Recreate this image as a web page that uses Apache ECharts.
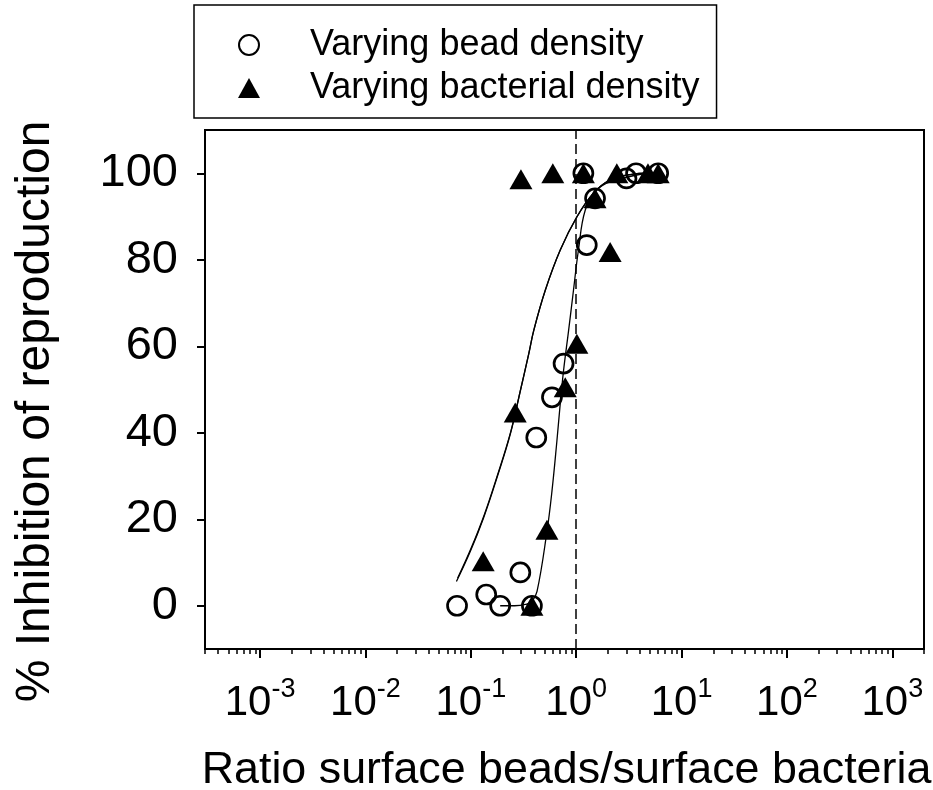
<!DOCTYPE html>
<html><head><meta charset="utf-8">
<script src="https://cdn.jsdelivr.net/npm/echarts@6/dist/echarts.min.js"></script>
<style>html,body{margin:0;padding:0;background:#fff}#c{width:933px;height:790px}</style>
</head><body><div id="c"></div>
<script>
// ---- data (ratio on log scale, % inhibition) ----
const beadRatio = [0.074, 0.14, 0.19, 0.295, 0.38, 0.418, 0.589, 0.759, 1.17, 1.26, 1.51, 3.0, 3.7, 6.0];
const beadInhib = [0, 2.6, 0, 7.7, 0, 38.9, 48.2, 56.0, 100, 83.4, 94.2, 98.8, 100, 100];
const bactRatio = [0.131, 0.264, 0.38, 0.528, 0.787, 1.015, 0.299, 0.60, 1.17, 1.51, 2.10, 2.43, 4.8, 6.0];
const bactInhib = [10.3, 44.7, 0, 17.6, 50.5, 60.6, 98.6, 100, 100, 94.2, 81.8, 100, 100, 100];
// fitted curves
const fitA_Ratio = [0.073, 0.099, 0.132, 0.177, 0.237, 0.295, 0.354, 0.395, 0.508, 0.705, 1.015, 1.46, 2.10, 3.47, 4.6];
const fitA_Inhib = [5.6, 12.6, 20.3, 29.6, 39.7, 49.7, 58.2, 63.6, 72.9, 82.2, 89.9, 95.4, 98.4, 99.8, 100];
const fitB_Ratio = [0.075, 0.101, 0.134, 0.179, 0.239, 0.297, 0.356, 0.397, 0.510, 0.707, 1.02, 1.47, 2.11, 3.48, 4.6];
const fitB_Inhib = [6.4, 13.4, 21.0, 30.2, 40.2, 50.0, 58.4, 63.8, 73.0, 82.3, 90.0, 95.5, 98.5, 99.8, 100];
const fitC_Ratio = [0.19, 0.26, 0.33, 0.38, 0.425, 0.528, 0.589, 0.656, 0.705, 0.759, 0.847, 0.942, 1.05, 1.22, 1.57, 2.10, 4.6];
const fitC_Inhib = [0, 0, 0.3, 1.0, 3.3, 17.2, 26.5, 38.1, 46.6, 54.4, 63.6, 72.9, 82.2, 91.5, 96.1, 98.0, 100];
const xExponents = [-3, -2, -1, 0, 1, 2, 3];
const yTickValues = [0, 20, 40, 60, 80, 100];
const xMin = 3e-4, xMax = 2000, yMin = -10, yMax = 110;
const refRatio = 1;

const L = Math.log10;
const pairs = (xs, ys) => xs.map((x, i) => [L(x), ys[i]]);
const minorTicks = [];
for (let n = -4; n <= 3; n++) {
  for (let k = 2; k <= 9; k++) {
    const v = k * Math.pow(10, n);
    if (v >= xMin * 0.999 && v <= xMax * 1.001) minorTicks.push(L(v));
  }
}
const FONT = 'Liberation Sans, Arial, sans-serif';
const chart = echarts.init(document.getElementById('c'));
const curveStyle = { color: '#000', width: 1.3 };
chart.setOption({
  animation: false,
  backgroundColor: '#fff',
  textStyle: { fontFamily: FONT, color: '#000' },
  grid: { left: 205, right: 9, top: 130, bottom: 141, outerBoundsMode: 'none', containLabel: false,
    show: true, borderColor: '#000', borderWidth: 2, backgroundColor: 'transparent' },
  legend: {
    orient: 'vertical', left: 194, top: 5,
    padding: [22, 17, 12, 44],
    itemGap: 7, itemWidth: 22, itemHeight: 20,
    borderColor: '#000', borderWidth: 1.5,
    textStyle: { fontSize: 36, fontFamily: FONT, color: '#000', lineHeight: 36, padding: [0, 0, 0, 45] },
    data: [
      { name: 'Varying bead density', icon: 'circle', itemStyle: { color: '#fff', borderColor: '#000', borderWidth: 2 } },
      { name: 'Varying bacterial density', icon: 'triangle', itemStyle: { color: '#000' } }
    ]
  },
  xAxis: [{
    type: 'value', min: L(xMin), max: L(xMax), position: 'bottom',
    name: 'Ratio surface beads/surface bacteria', nameLocation: 'middle', nameGap: 99,
    nameTextStyle: { fontSize: 44.8, fontFamily: FONT, color: '#000', padding: [0, 0, 0, 4] },
    axisLine: { show: true, onZero: false, lineStyle: { color: '#000', width: 2 } },
    axisTick: { show: true, length: 9, customValues: xExponents, lineStyle: { color: '#000', width: 2 } },
    axisLabel: {
      show: true, customValues: xExponents, margin: 27,
      formatter: v => '{b|10}{s|' + Math.round(v) + '}',
      rich: {
        b: { fontSize: 42, fontFamily: FONT, color: '#000', verticalAlign: 'bottom', lineHeight: 48 },
        s: { fontSize: 27, fontFamily: FONT, color: '#000', verticalAlign: 'top', lineHeight: 48 }
      }
    },
    splitLine: { show: false }
  }, {
    type: 'value', min: L(xMin), max: L(xMax), position: 'bottom', gridIndex: 0,
    axisLine: { show: false, onZero: false },
    axisTick: { show: true, length: 5, customValues: minorTicks, lineStyle: { color: '#000', width: 1.5 } },
    axisLabel: { show: false },
    splitLine: { show: false }
  }],
  yAxis: {
    type: 'value', min: yMin, max: yMax,
    name: '% Inhibition of reproduction', nameLocation: 'middle', nameGap: 145, nameRotate: 90,
    nameTextStyle: { fontSize: 48, fontFamily: FONT, color: '#000', padding: [0, 44, 0, 0] },
    axisLine: { show: true, onZero: false, lineStyle: { color: '#000', width: 2 } },
    axisTick: { show: true, length: 8, customValues: yTickValues, lineStyle: { color: '#000', width: 2 } },
    axisLabel: { show: true, customValues: yTickValues, margin: 27, fontSize: 47, fontFamily: FONT, color: '#000' },
    splitLine: { show: false }
  },
  series: [
    { type: 'line', data: pairs(fitA_Ratio, fitA_Inhib), smooth: 0.4, showSymbol: false, lineStyle: curveStyle, silent: true, z: 1,
      markLine: { silent: true, symbol: 'none', label: { show: false }, lineStyle: { color: '#000', width: 1.5, type: [10, 5] }, data: [{ xAxis: L(refRatio) }] } },
    { type: 'line', data: pairs(fitB_Ratio, fitB_Inhib), smooth: 0.4, showSymbol: false, lineStyle: curveStyle, silent: true, z: 1 },
    { type: 'line', data: pairs(fitC_Ratio, fitC_Inhib), smooth: 0.4, showSymbol: false, lineStyle: curveStyle, silent: true, z: 1 },
    { name: 'Varying bead density', type: 'scatter', data: pairs(beadRatio, beadInhib), symbol: 'circle', symbolSize: 19,
      itemStyle: { color: 'rgba(255,255,255,0)', borderColor: '#000', borderWidth: 2.7, opacity: 1 }, z: 3 },
    { name: 'Varying bacterial density', type: 'scatter', data: pairs(bactRatio, bactInhib), symbol: 'triangle', symbolSize: [23, 20],
      itemStyle: { color: '#000', opacity: 1 }, z: 4 }
  ]
});
</script></body></html>
